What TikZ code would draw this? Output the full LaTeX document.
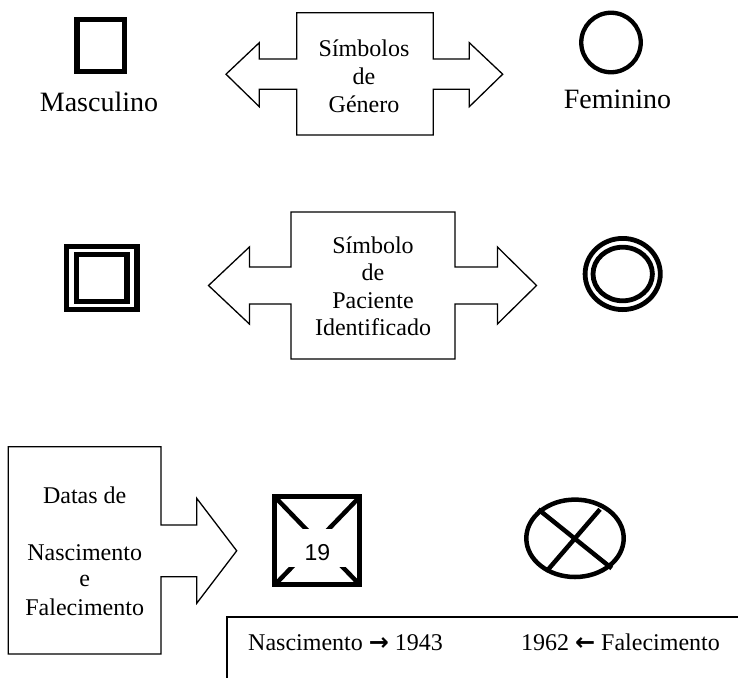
\documentclass[tikz,border=0pt]{standalone}
\usepackage{fontspec}
\setmainfont{Liberation Serif}
\newfontfamily\arialfont{Liberation Sans}
\newfontfamily\arrowfont{DejaVu Sans}
\usetikzlibrary{shapes.geometric,calc}
\begin{document}
\begin{tikzpicture}[x=1pt,y=-1pt,
  sym/.style={draw, line width=5.5pt, inner sep=0pt, outer sep=0pt},
  blk/.style={draw, line width=1.3pt, line join=miter},
  lbl/.style={anchor=base, inner sep=0pt, font=\fontsize{24}{28}\selectfont},
  big/.style={anchor=base, inner sep=0pt, font=\fontsize{28}{32}\selectfont}]
\clip (0,0) rectangle (738,677);
\fill[white] (0,0) rectangle (738,677);

% ---------- row 1 ----------
\node[sym, minimum width=47.5pt, minimum height=51.6pt] (msq) at (100.5,45.5) {};
\node[big] (mtxt) at (99,111) {Masculino};
\node[sym, circle, line width=4.3pt, minimum size=59.5pt] (fcirc) at (611,42.5) {};
\node[big] (ftxt) at (617.5,108.5) {Feminino};

\draw[blk] (296.7,12.7) -- (433.3,12.7) -- (433.3,59) -- (469.3,59) -- (469.3,42.7)
  -- (502.7,74.2) -- (469.3,106.7) -- (469.3,89.3) -- (433.3,89.3) -- (433.3,135)
  -- (296.7,135) -- (296.7,89.3) -- (259.3,89.3) -- (259.3,106.7) -- (226,74.2)
  -- (259.3,42.7) -- (259.3,59) -- (296.7,59) -- cycle;
\node[lbl] (g1) at (364,56.7) {Símbolos};
\node[lbl] (g2) at (364,84) {de};
\node[lbl] (g3) at (364,112) {Género};

% ---------- row 2 ----------
\node[sym, minimum width=70.7pt, minimum height=62.6pt] (psq1) at (101.65,278) {};
\node[sym, minimum width=50.9pt, minimum height=47.2pt] (psq2) at (101.75,277.9) {};
\node[sym, ellipse, line width=4.8pt, minimum width=75.2pt, minimum height=71.2pt] (pc1) at (622.7,274) {};
\node[sym, ellipse, line width=4.8pt, minimum width=59.4pt, minimum height=53.6pt] (pc2) at (622.7,274) {};

\draw[blk] (291,212) -- (455,212) -- (455,267) -- (497.4,267) -- (497.4,247)
  -- (536.5,285.5) -- (497.4,324) -- (497.4,304) -- (455,304) -- (455,359)
  -- (291,359) -- (291,304) -- (249.4,304) -- (249.4,324) -- (208.5,285.5)
  -- (249.4,247) -- (249.4,267) -- (291,267) -- cycle;
\node[lbl] (p1) at (373,253) {Símbolo};
\node[lbl] (p2) at (373,280) {de};
\node[lbl] (p3) at (373,308) {Paciente};
\node[lbl] (p4) at (373,335) {Identificado};

% ---------- row 3 ----------
\draw[blk] (8.3,446.7) -- (161,446.7) -- (161,525) -- (196.7,525) -- (196.7,498.3)
  -- (236.7,550.8) -- (196.7,603.3) -- (196.7,576.7) -- (161,576.7) -- (161,654)
  -- (8.3,654) -- cycle;
\node[lbl] (d1) at (84.7,503.3) {Datas de};
\node[lbl] (d2) at (84.7,560) {Nascimento};
\node[lbl] (d3) at (84.7,586.7) {e};
\node[lbl] (d4) at (84.7,615) {Falecimento};

% square with X
\coordinate (xnw) at (274.8,496.8);
\coordinate (xse) at (359.8,584.8);
\coordinate (xne) at (359.8,496.8);
\coordinate (xsw) at (274.8,584.8);
\draw[line width=4.5pt] (xnw) -- (xse);
\draw[line width=4.5pt] (xne) -- (xsw);
\node[anchor=base, inner sep=0pt, fill=white, text height=31pt, text depth=7pt,
  minimum width=79.5pt, font=\fontsize{23}{27}\arialfont] (n19) at (317.3,560) {19};
\node[sym, line width=5pt, minimum width=85pt, minimum height=88pt] (xsq) at (317.3,540.8) {};

% ellipse with X
\node[sym, ellipse, line width=4.5pt, minimum width=97.4pt, minimum height=77.4pt] (xc) at (575,538.3) {};
\draw[line width=4.5pt] ($(xc.center)+(-36.7,-29)$) -- ($(xc.center)+(36.7,30)$);
\draw[line width=4.5pt] ($(xc.center)+(25,-29)$) -- ($(xc.center)+(-26.7,31)$);

% bottom box
\draw[blk] (760,617) -- (227,617) -- (227,700);
\node[lbl, anchor=base west] (nasc) at (248,650.7) {Nascimento {\arrowfont\bfseries →} 1943};
\node[lbl, anchor=base east] (fal) at (720,650.7) {1962 {\arrowfont\bfseries ←} Falecimento};
\end{tikzpicture}
\end{document}
